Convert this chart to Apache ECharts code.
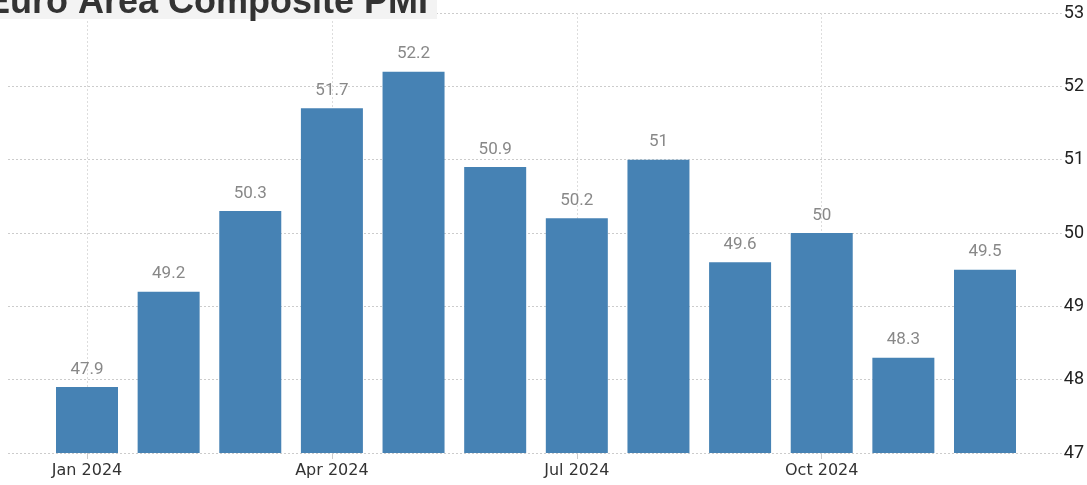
<!DOCTYPE html>
<html>
<head>
<meta charset="utf-8">
<script src="https://cdn.jsdelivr.net/npm/echarts@6/dist/echarts.min.js"></script>
<style>
  html, body { margin: 0; padding: 0; background: #fff; }
  #chart { width: 1087px; height: 485px; }
</style>
</head>
<body>
<div id="chart"></div>
<script>
// Euro Area Composite PMI, monthly 2024
const months = ['Jan 2024', 'Feb 2024', 'Mar 2024', 'Apr 2024', 'May 2024', 'Jun 2024',
  'Jul 2024', 'Aug 2024', 'Sep 2024', 'Oct 2024', 'Nov 2024', 'Dec 2024']
const pmiValues = [47.9, 49.2, 50.3, 51.7, 52.2, 50.9, 50.2, 51, 49.6, 50, 48.3, 49.5]
const yTicks = [47, 48, 49, 50, 51, 52, 53]

const chart = echarts.init(document.getElementById('chart'), null, { renderer: 'canvas' })

const yMin = yTicks[0]
const yMax = yTicks[yTicks.length - 1]
const numFont = 'Roboto, "Liberation Sans", Arial, sans-serif'

chart.setOption({
  animation: false,
  graphic: [
    {
      type: 'rect',
      shape: { x: 0, y: 0, width: 437, height: 19 },
      style: { fill: '#f3f3f3' },
      z: 10
    },
    {
      type: 'text',
      left: -14,
      top: -15,
      style: {
        text: 'Euro Area Composite PMI',
        font: 'bold 36px "Liberation Sans", Arial, sans-serif',
        fill: '#333'
      },
      z: 11
    }
  ],
  grid: [
    // background grid: horizontal lines + right axis labels
    { left: 8, right: 25, top: 13, bottom: 32 },
    // bars: category centers from Jan to Dec
    { left: 87, right: 102, top: 13, bottom: 32 }
  ],
  xAxis: [
    { gridIndex: 0, type: 'value', min: 0, max: 1, show: false },
    {
      gridIndex: 1,
      type: 'category',
      data: months,
      boundaryGap: false,
      axisLine: { show: false },
      axisTick: { show: true, interval: 2, length: 6, lineStyle: { color: '#ccc' } },
      axisLabel: {
        interval: 2,
        color: '#333',
        fontSize: 16,
        fontFamily: 'DejaVu Sans',
        margin: 10
      },
      splitLine: {
        show: true,
        interval: 2,
        lineStyle: { color: '#ddd', type: [2, 2] }
      }
    }
  ],
  yAxis: [
    {
      gridIndex: 0,
      type: 'value',
      position: 'right',
      min: yMin,
      max: yMax,
      interval: 1,
      axisLine: { show: false },
      axisTick: { show: false },
      axisLabel: {
        color: '#222',
        fontSize: 18,
        fontFamily: numFont,
        margin: 2
      },
      splitLine: { lineStyle: { color: '#ccc', type: [2, 2] } }
    },
    {
      gridIndex: 1,
      type: 'value',
      min: yMin,
      max: yMax,
      show: false
    }
  ],
  series: [
    {
      type: 'bar',
      xAxisIndex: 1,
      yAxisIndex: 1,
      data: pmiValues,
      barWidth: 62,
      itemStyle: { color: '#4682b4' },
      label: {
        show: true,
        position: 'top',
        distance: 9,
        color: '#888',
        fontSize: 17,
        fontFamily: numFont
      }
    }
  ]
})
</script>
</body>
</html>
